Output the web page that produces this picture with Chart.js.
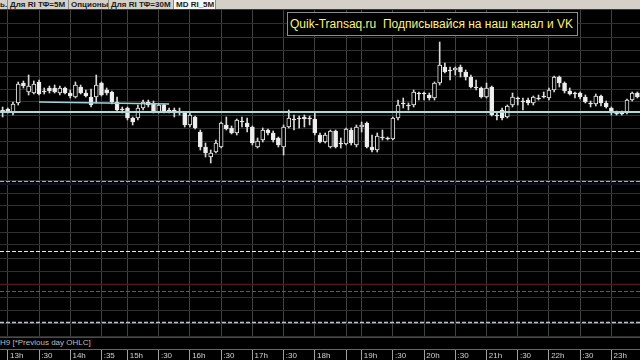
<!DOCTYPE html>
<html lang="ru">
<head>
<meta charset="utf-8">
<title>MD RI_5M</title>
<script src="https://cdn.jsdelivr.net/npm/chart.js@4.4.1/dist/chart.umd.min.js"></script>
<style>
  html, body { margin: 0; padding: 0; background: #000; }
  body { width: 640px; height: 360px; overflow: hidden; position: relative; }
  #cv { position: absolute; left: 0; top: 0; }
  #tabs { position: absolute; left: 0; top: 0; width: 640px; height: 10px; background: #d4d0c8;
          border-bottom: 1px solid #3a3a3a; box-sizing: border-box; overflow: hidden; }
  .tab { position: absolute; top: 0; height: 9px; box-sizing: border-box; padding-left: 2px;
         border-right: 1px solid #8a8a8a; white-space: nowrap; color: #1c1c1c;
         font: bold 8px 'Liberation Sans', Arial, sans-serif; line-height: 10px; }
  .tab.on { background: #f7f7f7; }
  #note { position: absolute; left: 287px; top: 12px; width: 291px; height: 24px; box-sizing: border-box;
          border: 1px solid #8c8c8c; background: #000; color: #fff27a; white-space: pre;
          font: 12px 'Liberation Sans', Arial, sans-serif; line-height: 22px; padding-left: 2px; }
  #legend { position: absolute; left: 0; top: 337px; width: 640px; height: 12px; box-sizing: border-box;
            background: #000; border-top: 1px solid #4a4a4a; color: #bdbdbd; white-space: pre;
            font: 8px 'Liberation Sans', Arial, sans-serif; line-height: 10px; }
</style>
</head>
<body>
<canvas id="cv" width="640" height="360"></canvas>
<div id="tabs">
  <div class="tab" style="left:-2px;width:10px">ь.</div>
  <div class="tab" style="left:8px;width:61px">Для RI ТФ=5М</div>
  <div class="tab" style="left:69px;width:40px">Опционы</div>
  <div class="tab" style="left:109px;width:65px">Для RI ТФ=30М</div>
  <div class="tab on" style="left:174px;width:42px">MD RI_5M</div>
</div>
<div id="note">Quik-Transaq.ru  Подписывайся на наш канал и VK</div>
<div id="legend">H9 [*Previous day OHLC]</div>
<script>
// ════════════════════════════════════════════════════════
// RI H9 — 5-минутные свечи, уровни предыдущего дня
// ════════════════════════════════════════════════════════

// ── ВРЕМЯ СВЕЧЕЙ ─────────────────────────────────────
var times = [
  '12:55',
  '13:00','13:05','13:10','13:15','13:20','13:25','13:30','13:35','13:40','13:45','13:50','13:55',
  '14:00','14:05','14:10','14:15','14:20','14:25','14:35','14:40','14:45','14:50','14:55',
  '15:00','15:05','15:10','15:15','15:20','15:25','15:30','15:35','15:40','15:45','15:50','15:55',
  '16:00','16:05','16:10','16:15','16:20','16:25','16:30','16:35','16:40','16:45','16:50','16:55',
  '17:00','17:05','17:10','17:15','17:20','17:25','17:30','17:35','17:40','17:45','17:50','17:55',
  '18:00','18:05','18:10','18:15','18:20','18:25','18:30','18:35','18:40',
  '19:00','19:05','19:10','19:15','19:20','19:25','19:30','19:35','19:40','19:45','19:50','19:55',
  '20:00','20:05','20:10','20:15','20:20','20:25','20:30','20:35','20:40','20:45','20:50','20:55',
  '21:00','21:05','21:10','21:15','21:20','21:25','21:30','21:35','21:40','21:45','21:50','21:55',
  '22:00','22:05','22:10','22:15','22:20','22:25','22:30','22:35','22:40','22:45','22:50','22:55',
  '23:00','23:05','23:10','23:15','23:20','23:25'
];

// ── OHLC ─────────────────────────────────────────────
var opens = [
  112370,112380,112340,112440,112640,112550,112540,112650,112560,112590,
  112590,112540,112590,112540,112500,112600,112540,112500,112500,112640,
  112570,112550,112450,112380,112390,112290,112290,112390,112450,112440,
  112350,112420,112370,112370,112350,112340,112220,112300,112150,112000,
  111900,111950,112000,112220,112190,112140,112260,112240,112200,112000,
  112070,112170,112140,112090,112000,112200,112280,112290,112300,112290,
  112280,112120,112050,112000,112160,112040,112030,112170,112020,112200,
  112240,112000,111970,112100,112090,112080,112290,112440,112420,112420,
  112540,112540,112520,112490,112640,112800,112770,112770,112800,112750,
  112700,112600,112590,112500,112600,112320,112370,112300,112420,112490,
  112460,112470,112440,112490,112510,112490,112570,112700,112640,112560,
  112540,112540,112500,112440,112430,112510,112440,112390,112340,112340,
  112340,112470,112540
];
var highs = [
  112400,112390,112450,112650,112660,112720,112660,112670,112590,112610,
  112620,112610,112600,112570,112650,112620,112570,112580,112720,112650,
  112590,112560,112500,112400,112400,112300,112420,112470,112470,112460,
  112430,112430,112390,112390,112390,112350,112340,112310,112170,112040,
  111970,112070,112250,112300,112210,112280,112300,112290,112210,112090,
  112190,112180,112160,112100,112220,112370,112320,112310,112320,112310,
  112350,112140,112140,112170,112170,112090,112190,112190,112220,112250,
  112250,112120,112140,112170,112100,112300,112470,112490,112440,112570,
  112550,112550,112540,112650,113050,112840,112800,112800,112820,112770,
  112720,112670,112600,112640,112610,112350,112390,112420,112540,112500,
  112490,112490,112510,112520,112550,112590,112710,112710,112650,112590,
  112550,112550,112520,112460,112530,112520,112460,112400,112360,112360,
  112480,112550,112550
];
var lows = [
  112300,112340,112320,112420,112590,112520,112530,112520,112530,112540,
  112540,112520,112530,112490,112490,112530,112500,112400,112440,112510,
  112520,112430,112350,112340,112270,112220,112270,112370,112400,112340,
  112340,112340,112340,112300,112320,112200,112200,112180,111970,111900,
  111840,111940,111990,112170,112130,112120,112200,112150,112020,111990,
  112050,112120,112050,112000,111920,112190,112170,112190,112200,112220,
  112120,112040,112040,111990,111990,111990,112020,112020,112000,112150,
  111990,111950,111950,112070,112070,112070,112270,112390,112370,112400,
  112470,112470,112470,112470,112620,112740,112670,112720,112700,112670,
  112590,112570,112490,112490,112310,112270,112270,112290,112400,112420,
  112370,112420,112420,112470,112490,112470,112550,112600,112540,112520,
  112490,112480,112440,112400,112410,112410,112390,112320,112320,112320,
  112330,112460,112490
];
var closes = [
  112360,112350,112430,112630,112610,112610,112630,112530,112550,112560,
  112550,112590,112540,112510,112620,112540,112510,112420,112620,112520,
  112540,112450,112370,112370,112290,112250,112390,112450,112420,112350,
  112420,112350,112360,112340,112340,112220,112320,112190,112000,111940,
  111940,112040,112240,112180,112140,112270,112250,112200,112040,112060,
  112170,112140,112070,112020,112200,112290,112270,112280,112280,112280,
  112140,112050,112120,112160,112000,112030,112180,112040,112200,112220,
  112000,111970,112110,112090,112080,112290,112420,112430,112410,112550,
  112530,112530,112490,112640,112820,112750,112760,112790,112750,112700,
  112600,112590,112500,112590,112320,112310,112290,112410,112500,112480,
  112450,112440,112500,112480,112500,112570,112700,112640,112560,112530,
  112530,112500,112450,112430,112510,112440,112400,112340,112330,112330,
  112470,112540,112500
];

// ── ПОДПИСИ ОСИ ВРЕМЕНИ ──────────────────────────────
var tickTimes = ['13:00','13:30','14:00','14:35','15:00','15:30','16:00','16:30','17:00','17:30',
                 '18:00','18:30','19:00','19:30','20:00','20:30','21:00','21:30','22:00','22:30','23:00'];
var tickText  = ['13h',':30','14h',':35','15h',':30','16h',':30','17h',':30',
                 '18h','',   '19h',':30','20h',':30','21h',':30','22h',':30','23h'];

// ── УРОВНИ (Previous day OHLC и линии) ────────────────
var levelValues = [111630, 111660, 110960, 110630, 110560, 110250, 112350];
var levelStyles = [
  { color: '#0e0e26', width: 2,   dash: [] },
  { color: '#a9a9dc', width: 1,   dash: [4, 2] },
  { color: '#f3f0b4', width: 1,   dash: [4, 2] },
  { color: '#4c1c1c', width: 1.5, dash: [] },
  { color: '#4f6a52', width: 1,   dash: [4, 2] },
  { color: '#b9c6ce', width: 1.5, dash: [4, 2] },
  { color: '#a8dadc', width: 2,   dash: [] }
];

// короткая трендовая линия
var trendTimes  = ['13:30', '15:40'];
var trendValues = [112450, 112430];

(function () {
  'use strict';

  var FONT = "'Liberation Sans', Arial, sans-serif";

  var wicks  = lows.map(function (l, i) { return [l, highs[i]]; });
  var bodies = opens.map(function (o, i) { return [o, closes[i]]; });
  var bodyFill = opens.map(function (o, i) { return closes[i] < o ? '#efefef' : '#000000'; });
  var trend = trendTimes.map(function (t, i) { return { x: t, y: trendValues[i] }; });

  function isTick(i) { return tickTimes.indexOf(times[i]) >= 0; }

  // ── ЛИНИИ УРОВНЕЙ ─────────────────────────────────────
  var levelPlugin = {
    id: 'levels',
    afterDatasetsDraw: function (chart) {
      var y = chart.scales.y, a = chart.chartArea, ctx = chart.ctx;
      levelValues.forEach(function (v, i) {
        var st = levelStyles[i];
        var py = Math.round(y.getPixelForValue(v)) + (st.width % 2 ? 0.5 : 0);
        ctx.save();
        ctx.strokeStyle = st.color;
        ctx.lineWidth = st.width;
        ctx.setLineDash(st.dash);
        ctx.beginPath();
        ctx.moveTo(a.left, py);
        ctx.lineTo(a.right, py);
        ctx.stroke();
        ctx.restore();
      });
    }
  };

  new Chart(document.getElementById('cv').getContext('2d'), {
    type: 'bar',
    data: {
      labels: times,
      datasets: [
        {
          type: 'line',
          data: trend,
          borderColor: '#9fd2d6',
          borderWidth: 1.5,
          pointRadius: 0,
          order: 0
        },
        {
          data: bodies,
          backgroundColor: bodyFill,
          borderColor: '#e8e8e8',
          borderWidth: 1,
          borderSkipped: false,
          barThickness: 4,
          grouped: false,
          order: 1
        },
        {
          data: wicks,
          backgroundColor: '#d8d8d8',
          barThickness: 1,
          grouped: false,
          order: 2
        }
      ]
    },
    options: {
      responsive: false,
      animation: false,
      events: [],
      layout: { padding: 0 },
      plugins: { legend: { display: false }, tooltip: { enabled: false } },
      scales: {
        x: {
          offset: true,
          border: { display: true, color: '#666666' },
          grid: {
            offset: false,
            lineWidth: 1,
            color: function (c) { return isTick(c.index) ? '#424242' : 'rgba(0,0,0,0)'; },
            tickColor: function (c) { return isTick(c.index) ? '#a0a0a0' : 'rgba(0,0,0,0)'; },
            tickLength: 11
          },
          ticks: {
            autoSkip: false,
            maxRotation: 0,
            minRotation: 0,
            align: 'start',
            padding: -9,
            color: '#d0d0d0',
            font: { family: FONT, size: 8 },
            callback: function (v, i) {
              var j = tickTimes.indexOf(times[i]);
              return j < 0 ? '' : ' ' + tickText[j];
            }
          },
          afterFit: function (s) { s.height = 11; }
        },
        y: {
          min: 109980,
          max: 113470,
          border: { display: false },
          grid: { color: '#303030', lineWidth: 1, drawTicks: false },
          ticks: { display: false, stepSize: 130 }
        }
      }
    },
    plugins: [levelPlugin]
  });
})();
</script>
</body>
</html>
